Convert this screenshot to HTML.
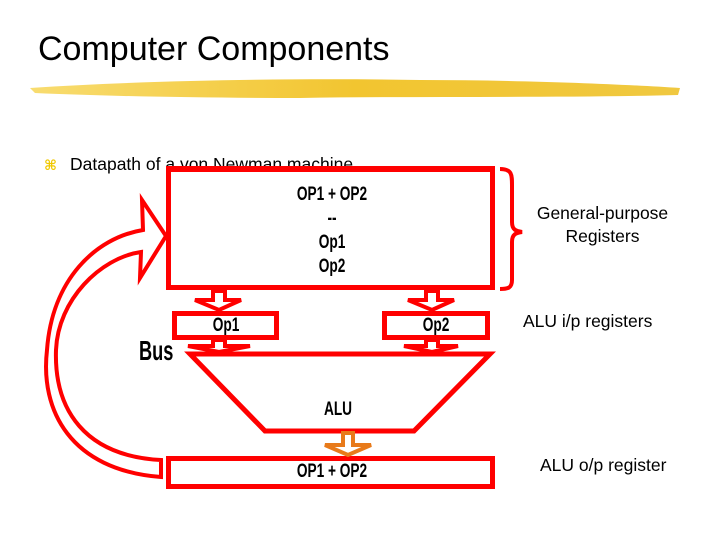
<!DOCTYPE html>
<html><head><style>
body{margin:0;width:720px;height:540px;background:#fff;overflow:hidden;position:relative;font-family:"Liberation Sans",sans-serif}
.t{position:absolute;white-space:nowrap}
.b{font-weight:bold;font-size:19px;transform:scaleX(0.72)}
</style></head><body>
<div class="t" style="left:38px;top:30px;font-size:34px;color:#000">Computer Components</div>
<svg width="720" height="540" style="position:absolute;left:0;top:0">
<defs><linearGradient id="g" x1="0" x2="1"><stop offset="0" stop-color="#f8dc70"/><stop offset="0.5" stop-color="#f2c530"/><stop offset="1" stop-color="#f0c840"/></linearGradient></defs>
<path d="M30 88 C150 80 300 78 420 80 C520 80 620 84 680 88 L678 95 C560 98 420 96 300 98 C200 98 100 96 35 93 Z" fill="url(#g)"/>
<g fill="none" stroke="#f00" stroke-width="5">
<rect x="168.5" y="169.5" width="324" height="118"/>
<rect x="174.5" y="313.5" width="102" height="24"/>
<rect x="384.5" y="313.5" width="103" height="24"/>
<rect x="168.5" y="458.5" width="324" height="28"/>
<path d="M190 354 L490 354 L414 431 L265 431 Z"/>
</g>
<g fill="#fff" stroke="#f00" stroke-width="4">
<path d="M213 291 L225 291 L225 300 L241 300 L219 310 L195 300 L213 300 Z"/>
<path d="M426 291 L438 291 L438 300 L454 300 L432 310 L408 300 L426 300 Z"/>
<path d="M213 340 L225 340 L225 346 L250 346 L219 352 L188 346 L213 346 Z"/>
<path d="M426 340 L438 340 L438 346 L458 346 L432 352 L404 346 L426 346 Z"/>
</g>
<path d="M343 433 L353 433 L353 445 L371 445 L348 455 L325 445 L343 445 Z" fill="#fff" stroke="#e87a1a" stroke-width="4"/>
<path d="M161 477 C70 470 40 410 47 350 C52 280 95 238 143 230 L142 200 L166 236 L140 278 L141 252 C100 258 58 300 56 350 C54 410 85 456 161 460 Z" fill="#fff" stroke="#f00" stroke-width="4"/>
<path d="M500 169 C512 169 512 175 512 185 L512 222 C512 230 516 231 522 232 C516 233 512 234 512 242 L512 280 C512 288 508 289 500 289" fill="none" stroke="#f00" stroke-width="4"/>
<text x="44" y="170" font-family="DejaVu Sans" font-size="14" fill="#f0c800" font-weight="bold">⌘</text>
</svg>
<div class="t" style="left:70px;top:154px;font-size:17.5px">Datapath of a von Newman machine</div>
<svg width="720" height="540" style="position:absolute;left:0;top:0">
<rect x="166" y="166" width="329" height="6" fill="#f00"/>
</svg>
<div class="t b" style="left:168px;width:328px;text-align:center;top:183px;line-height:24px">OP1 + OP2<br>--<br>Op1<br>Op2</div>
<div class="t b" style="left:174px;width:104px;text-align:center;top:315px">Op1</div>
<div class="t b" style="left:384px;width:104px;text-align:center;top:315px">Op2</div>
<div class="t" style="left:139px;top:335px;font-size:28px;font-weight:bold;transform:scaleX(0.65);transform-origin:left">Bus</div>
<div class="t b" style="left:168px;width:340px;text-align:center;top:399px">ALU</div>
<div class="t b" style="left:168px;width:328px;text-align:center;top:461px">OP1 + OP2</div>
<div class="t" style="left:529px;width:147px;text-align:center;top:202px;font-size:17.5px;line-height:23px">General-purpose<br>Registers</div>
<div class="t" style="left:523px;top:311px;font-size:17.5px">ALU i/p registers</div>
<div class="t" style="left:540px;top:455px;font-size:17.5px">ALU o/p register</div>
</body></html>
